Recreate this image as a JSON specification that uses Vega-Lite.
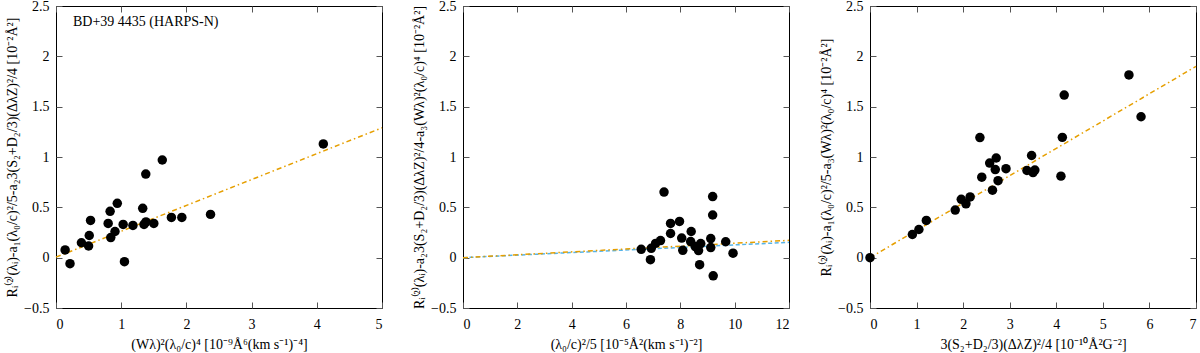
{
  "$schema": "https://vega.github.io/schema/vega-lite/v6.json",
  "padding": {"left": 4, "top": -2, "right": 0, "bottom": 0},
  "bounds": "flush",
  "spacing": 81,
  "config": {
    "font": "Liberation Serif",
    "view": {"stroke": "#000", "strokeWidth": 1},
    "axis": {
      "grid": false, "domain": false,
      "labelFont": "Liberation Serif", "titleFont": "Liberation Serif",
      "labelFontSize": 14, "titleFontSize": 14, "titleFontWeight": "normal",
      "labelColor": "#000", "titleColor": "#000",
      "tickColor": "#555", "tickSize": -6, "tickWidth": 1,
      "titleLimit": 600, "labelLimit": 300
    }
  },
  "datasets": {
    "p1": [
      {"x": 0.14, "y": 0.077}, {"x": 0.215, "y": -0.06}, {"x": 0.39, "y": 0.148},
      {"x": 0.50, "y": 0.116}, {"x": 0.51, "y": 0.22}, {"x": 0.53, "y": 0.37},
      {"x": 0.80, "y": 0.34}, {"x": 0.83, "y": 0.46}, {"x": 0.84, "y": 0.20},
      {"x": 0.905, "y": 0.26}, {"x": 0.94, "y": 0.54}, {"x": 1.03, "y": 0.33},
      {"x": 1.05, "y": -0.04}, {"x": 1.18, "y": 0.32}, {"x": 1.33, "y": 0.49},
      {"x": 1.35, "y": 0.33}, {"x": 1.38, "y": 0.355}, {"x": 1.377, "y": 0.83},
      {"x": 1.50, "y": 0.34}, {"x": 1.63, "y": 0.97}, {"x": 1.77, "y": 0.40},
      {"x": 1.93, "y": 0.40}, {"x": 2.37, "y": 0.43}, {"x": 4.10, "y": 1.13}
    ],
    "p2": [
      {"x": 6.56, "y": 0.083}, {"x": 6.90, "y": -0.02}, {"x": 6.93, "y": 0.093},
      {"x": 7.09, "y": 0.142}, {"x": 7.27, "y": 0.17}, {"x": 7.40, "y": 0.652},
      {"x": 7.64, "y": 0.34}, {"x": 7.64, "y": 0.24}, {"x": 7.97, "y": 0.36},
      {"x": 8.05, "y": 0.195}, {"x": 8.09, "y": 0.073}, {"x": 8.40, "y": 0.26},
      {"x": 8.38, "y": 0.16}, {"x": 8.55, "y": 0.11}, {"x": 8.67, "y": 0.07},
      {"x": 8.75, "y": 0.14}, {"x": 8.71, "y": -0.07}, {"x": 9.12, "y": 0.19},
      {"x": 9.12, "y": 0.10}, {"x": 9.19, "y": 0.607}, {"x": 9.19, "y": 0.424},
      {"x": 9.21, "y": -0.18}, {"x": 9.67, "y": 0.158}, {"x": 9.94, "y": 0.045}
    ],
    "p3": [
      {"x": 0.0, "y": 0.0}, {"x": 0.91, "y": 0.23}, {"x": 1.05, "y": 0.28},
      {"x": 1.21, "y": 0.37}, {"x": 1.83, "y": 0.473}, {"x": 1.96, "y": 0.58},
      {"x": 2.06, "y": 0.535}, {"x": 2.15, "y": 0.603}, {"x": 2.36, "y": 1.193},
      {"x": 2.40, "y": 0.80}, {"x": 2.57, "y": 0.94}, {"x": 2.63, "y": 0.67},
      {"x": 2.69, "y": 0.875}, {"x": 2.71, "y": 0.99}, {"x": 2.75, "y": 0.765},
      {"x": 2.92, "y": 0.884}, {"x": 3.37, "y": 0.866}, {"x": 3.47, "y": 1.015},
      {"x": 3.50, "y": 0.845}, {"x": 3.54, "y": 0.87}, {"x": 4.10, "y": 0.81},
      {"x": 4.13, "y": 1.195}, {"x": 4.17, "y": 1.615}, {"x": 5.56, "y": 1.815},
      {"x": 5.82, "y": 1.40}
    ],
    "fit1": [{"x": 0, "y": 0.005}, {"x": 5, "y": 1.29}],
    "fit2o": [{"x": 0, "y": 0}, {"x": 12, "y": 0.172}],
    "fit2b": [{"x": 0, "y": 0}, {"x": 12, "y": 0.152}],
    "fit3": [{"x": 0, "y": 0}, {"x": 7, "y": 1.9}],
    "ann": [{"x": 0.26, "y": 2.34, "label": "BD+39 4435 (HARPS-N)"}]
  },
  "hconcat": [
    {
      "width": 326, "height": 302,
      "layer": [
        {
          "data": {"name": "fit1"},
          "mark": {"type": "line", "color": "#E69F00", "strokeWidth": 1.5, "strokeDash": [5, 3, 1.5, 3]},
          "encoding": {
            "x": {"field": "x", "type": "quantitative", "scale": {"domain": [0, 5], "nice": false, "zero": false},
                  "axis": {"orient": "top", "values": [0, 1, 2, 3, 4, 5], "labels": false, "title": null, "minExtent": 0, "maxExtent": 0}},
            "y": {"field": "y", "type": "quantitative", "scale": {"domain": [-0.5, 2.5], "nice": false, "zero": false},
                  "axis": {"orient": "right", "values": [-0.5, 0, 0.5, 1, 1.5, 2, 2.5], "labels": false, "title": null, "minExtent": 0, "maxExtent": 0}}
          }
        },
        {
          "data": {"name": "p1"},
          "mark": {"type": "circle", "size": 90, "color": "#000", "opacity": 1},
          "encoding": {
            "x": {"field": "x", "type": "quantitative",
                  "axis": {"orient": "bottom", "values": [0, 1, 2, 3, 4, 5], "format": "~g", "labelPadding": 15, "titlePadding": 6,
                           "title": "(Wλ)²(λ₀/c)⁴ [10⁻⁹Å⁶(km s⁻¹)⁻⁴]"}},
            "y": {"field": "y", "type": "quantitative",
                  "axis": {"orient": "left", "values": [-0.5, 0, 0.5, 1, 1.5, 2, 2.5], "format": "~g", "labelPadding": 13, "titlePadding": 8, "minExtent": 29, "maxExtent": 29,
                           "title": "Rᵢ⁽²⁾(λᵢ)-a₁(λ₀/c)²/5-a₂3(S₂+D₂/3)(ΔλZ)²/4 [10⁻²Å²]"}}
          }
        },
        {
          "data": {"name": "ann"},
          "mark": {"type": "text", "align": "left", "baseline": "middle", "fontSize": 14, "font": "Liberation Serif", "color": "#000"},
          "encoding": {
            "x": {"field": "x", "type": "quantitative", "axis": null},
            "y": {"field": "y", "type": "quantitative", "axis": null},
            "text": {"field": "label"}
          }
        }
      ]
    },
    {
      "width": 326, "height": 302,
      "layer": [
        {
          "data": {"name": "fit2b"},
          "mark": {"type": "line", "color": "#56B4E9", "strokeWidth": 1.5, "strokeDash": [4, 2.5]},
          "encoding": {
            "x": {"field": "x", "type": "quantitative", "scale": {"domain": [0, 12], "nice": false, "zero": false},
                  "axis": {"orient": "top", "values": [0, 2, 4, 6, 8, 10, 12], "labels": false, "title": null, "minExtent": 0, "maxExtent": 0}},
            "y": {"field": "y", "type": "quantitative", "scale": {"domain": [-0.5, 2.5], "nice": false, "zero": false},
                  "axis": {"orient": "right", "values": [-0.5, 0, 0.5, 1, 1.5, 2, 2.5], "labels": false, "title": null, "minExtent": 0, "maxExtent": 0}}
          }
        },
        {
          "data": {"name": "fit2o"},
          "mark": {"type": "line", "color": "#E69F00", "strokeWidth": 1.5, "strokeDash": [5, 3, 1.5, 3]},
          "encoding": {
            "x": {"field": "x", "type": "quantitative", "axis": null},
            "y": {"field": "y", "type": "quantitative", "axis": null}
          }
        },
        {
          "data": {"name": "p2"},
          "mark": {"type": "circle", "size": 90, "color": "#000", "opacity": 1},
          "encoding": {
            "x": {"field": "x", "type": "quantitative",
                  "axis": {"orient": "bottom", "values": [0, 2, 4, 6, 8, 10, 12], "format": "~g", "labelPadding": 15, "titlePadding": 6,
                           "title": "(λ₀/c)²/5 [10⁻⁵Å²(km s⁻¹)⁻²]"}},
            "y": {"field": "y", "type": "quantitative",
                  "axis": {"orient": "left", "values": [-0.5, 0, 0.5, 1, 1.5, 2, 2.5], "format": "~g", "labelPadding": 13, "titlePadding": 8, "minExtent": 29, "maxExtent": 29,
                           "title": "Rᵢ⁽²⁾(λᵢ)-a₂3(S₂+D₂/3)(ΔλZ)²/4-a₃(Wλ)²(λ₀/c)⁴ [10⁻²Å²]"}}
          }
        }
      ]
    },
    {
      "width": 326, "height": 302,
      "layer": [
        {
          "data": {"name": "fit3"},
          "mark": {"type": "line", "color": "#E69F00", "strokeWidth": 1.5, "strokeDash": [5, 3, 1.5, 3]},
          "encoding": {
            "x": {"field": "x", "type": "quantitative", "scale": {"domain": [0, 7], "nice": false, "zero": false},
                  "axis": {"orient": "top", "values": [0, 1, 2, 3, 4, 5, 6, 7], "labels": false, "title": null, "minExtent": 0, "maxExtent": 0}},
            "y": {"field": "y", "type": "quantitative", "scale": {"domain": [-0.5, 2.5], "nice": false, "zero": false},
                  "axis": {"orient": "right", "values": [-0.5, 0, 0.5, 1, 1.5, 2, 2.5], "labels": false, "title": null, "minExtent": 0, "maxExtent": 0}}
          }
        },
        {
          "data": {"name": "p3"},
          "mark": {"type": "circle", "size": 90, "color": "#000", "opacity": 1},
          "encoding": {
            "x": {"field": "x", "type": "quantitative",
                  "axis": {"orient": "bottom", "values": [0, 1, 2, 3, 4, 5, 6, 7], "format": "~g", "labelPadding": 15, "titlePadding": 6,
                           "title": "3(S₂+D₂/3)(ΔλZ)²/4 [10⁻¹⁰Å²G⁻²]"}},
            "y": {"field": "y", "type": "quantitative",
                  "axis": {"orient": "left", "values": [-0.5, 0, 0.5, 1, 1.5, 2, 2.5], "format": "~g", "labelPadding": 13, "titlePadding": 8, "minExtent": 29, "maxExtent": 29,
                           "title": "Rᵢ⁽²⁾(λᵢ)-a₁(λ₀/c)²/5-a₃(Wλ)²(λ₀/c)⁴ [10⁻²Å²]"}}
          }
        }
      ]
    }
  ]
}
